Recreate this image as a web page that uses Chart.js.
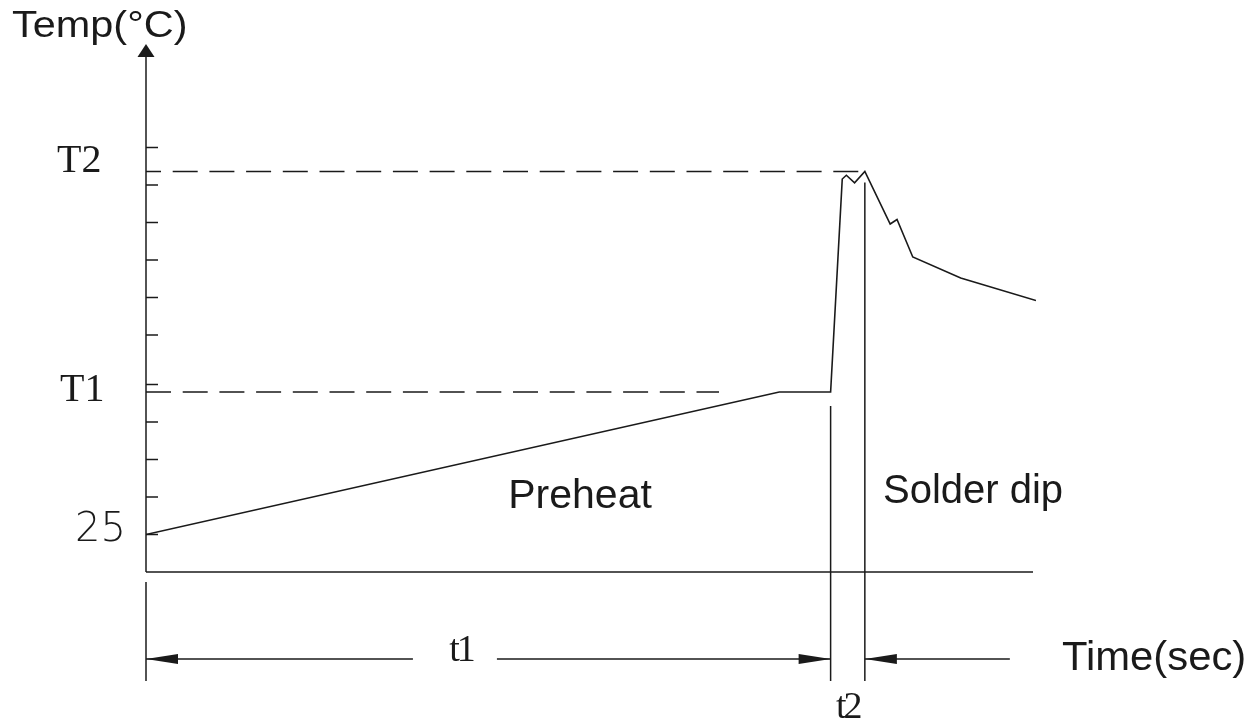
<!DOCTYPE html>
<html>
<head>
<meta charset="utf-8">
<script src="https://cdn.jsdelivr.net/npm/chart.js@4/dist/chart.umd.min.js"></script>
<style>
  html, body { margin: 0; padding: 0; background: #fff; }
  canvas { display: block; }
</style>
</head>
<body>
<canvas id="profile" width="1259" height="724"></canvas>
<script>
// Soldering temperature profile: time (s) against temperature (°C)
const timeSec = [0, 92.5, 100, 101.7, 102.3, 103.5, 105, 108.7, 109.7, 112, 119, 130];
const tempC   = [25, 120, 120, 262, 264.5, 259.5, 267, 232, 235, 210, 196, 181];

// Reference temperature levels shown on the vertical axis
const levelValues = [25, 120, 267];
const levelLabels = ['25', 'T1', 'T2'];

// Unlabelled minor ticks on the vertical axis
const minorTicks = [25, 50, 75, 100, 125, 158, 183, 208, 233, 258, 283];

// Phase boundaries: start, end of preheat (t1), end of dip (t2)
const phaseTimes  = [0, 100, 105];
const phaseLabels = ['t1', 't2'];

// Phase names and axis titles
const regionLabels = ['Preheat', 'Solder dip'];
const axisTitles   = ['Temp(°C)', 'Time(sec)'];

const INK = '#1a1a1a';
const SANS = '"Liberation Sans", Arial, sans-serif';
const SERIF = '"Liberation Serif", "Times New Roman", serif';

function arrowHead(ctx, tipX, tipY, dir, len, half) {
  ctx.beginPath();
  if (dir === 'up') {
    ctx.moveTo(tipX, tipY);
    ctx.lineTo(tipX - half, tipY + len);
    ctx.lineTo(tipX + half, tipY + len);
  } else {
    const s = dir === 'left' ? 1 : -1;
    ctx.moveTo(tipX, tipY);
    ctx.lineTo(tipX + s * len, tipY - half);
    ctx.lineTo(tipX + s * len, tipY + half);
  }
  ctx.closePath();
  ctx.fill();
}

function seg(ctx, x1, y1, x2, y2) {
  ctx.beginPath();
  ctx.moveTo(x1, y1);
  ctx.lineTo(x2, y2);
  ctx.stroke();
}

// text drawn with a slight horizontal stretch, left-aligned at (x, y)
function wideText(ctx, text, x, y, sx) {
  ctx.save();
  ctx.translate(x, y);
  ctx.scale(sx, 1);
  ctx.textAlign = 'left';
  ctx.fillText(text, 0, 0);
  ctx.restore();
}

const profileDecor = {
  id: 'profileDecor',
  beforeDatasetsDraw(chart) {
    const { ctx, chartArea } = chart;
    const xs = chart.scales.x, ys = chart.scales.y;
    const x0 = xs.getPixelForValue(0), y0 = ys.getPixelForValue(0);
    ctx.save();
    ctx.strokeStyle = INK;
    ctx.fillStyle = INK;
    ctx.lineWidth = 1.5;

    // axes
    seg(ctx, x0, y0, x0, chartArea.top + 12);
    arrowHead(ctx, x0, chartArea.top, 'up', 13, 8.5);
    seg(ctx, x0, y0, chartArea.right - 3, y0);

    // minor ticks pointing into the plot
    minorTicks.forEach(v => {
      const py = ys.getPixelForValue(v);
      seg(ctx, x0, py, x0 + 12, py);
    });

    // dashed guides for T1 and T2
    ctx.setLineDash([25, 11.7]);
    ctx.lineDashOffset = 0;
    seg(ctx, x0, ys.getPixelForValue(levelValues[1]), xs.getPixelForValue(83.7), ys.getPixelForValue(levelValues[1]));
    ctx.lineDashOffset = 10;
    seg(ctx, x0, ys.getPixelForValue(levelValues[2]), xs.getPixelForValue(phaseTimes[2]), ys.getPixelForValue(levelValues[2]));
    ctx.setLineDash([]);
    ctx.restore();
  },
  afterDraw(chart) {
    const { ctx, chartArea } = chart;
    const xs = chart.scales.x, ys = chart.scales.y;
    const x0 = xs.getPixelForValue(phaseTimes[0]);
    const xt1 = xs.getPixelForValue(phaseTimes[1]);
    const xt2 = xs.getPixelForValue(phaseTimes[2]);
    const y0 = ys.getPixelForValue(0);
    ctx.save();
    ctx.strokeStyle = INK;
    ctx.fillStyle = INK;
    ctx.lineWidth = 1.5;

    // level labels on the vertical axis
    ctx.textBaseline = 'middle';
    ctx.font = '200 40px "DejaVu Sans", ' + SANS;
    ctx.textAlign = 'right';
    ctx.fillText(levelLabels[0], x0 - 20, ys.getPixelForValue(levelValues[0]) - 4);
    ctx.font = '40px ' + SERIF;
    ctx.textAlign = 'left';
    ctx.fillText(levelLabels[1], x0 - 86, ys.getPixelForValue(levelValues[1]) - 2);
    ctx.fillText(levelLabels[2], x0 - 89, ys.getPixelForValue(levelValues[2]) - 10);

    // dimension lines below the time axis
    const yDim = y0 + 87;
    const yExt = y0 + 109;
    seg(ctx, x0, y0 + 10, x0, yExt);
    seg(ctx, xt1, ys.getPixelForValue(levelValues[1]) + 14, xt1, yExt);
    seg(ctx, xt2, ys.getPixelForValue(levelValues[2]) + 11, xt2, yExt);

    const t1Center = xs.getPixelForValue(46);
    seg(ctx, x0, yDim, t1Center - 48, yDim);
    seg(ctx, t1Center + 36, yDim, xt1, yDim);
    arrowHead(ctx, x0, yDim, 'left', 32, 5);
    arrowHead(ctx, xt1, yDim, 'right', 32, 5);

    seg(ctx, xt2, yDim, xt2 + 145, yDim);
    arrowHead(ctx, xt2, yDim, 'left', 32, 5);

    ctx.font = '38px ' + SERIF;
    ctx.letterSpacing = '-3px';
    ctx.textAlign = 'center';
    ctx.textBaseline = 'alphabetic';
    ctx.fillText(phaseLabels[0], t1Center, yDim + 2);
    ctx.fillText(phaseLabels[1], (xt1 + xt2) / 2, y0 + 146);
    ctx.letterSpacing = '0px';

    // phase names
    ctx.font = '41px ' + SANS;
    ctx.fillText(regionLabels[0], xs.getPixelForValue(63.4), ys.getPixelForValue(42.5));
    ctx.font = '40px ' + SANS;
    ctx.fillText(regionLabels[1], xs.getPixelForValue(120.8), ys.getPixelForValue(45.8));

    // axis titles
    ctx.font = '37px ' + SANS;
    wideText(ctx, axisTitles[0], x0 - 134, chartArea.top - 7, 1.12);
    ctx.font = '40px ' + SANS;
    wideText(ctx, axisTitles[1], chartArea.right + 26, yDim + 11, 1.045);
    ctx.restore();
  }
};

new Chart(document.getElementById('profile'), {
  type: 'line',
  data: {
    datasets: [{
      data: timeSec.map((t, i) => ({ x: t, y: tempC[i] })),
      borderColor: INK,
      borderWidth: 1.6,
      pointRadius: 0,
      tension: 0,
      fill: false
    }]
  },
  options: {
    responsive: false,
    devicePixelRatio: 1,
    animation: false,
    events: [],
    layout: { padding: { left: 146, top: 44, right: 223, bottom: 152 } },
    plugins: { legend: { display: false }, tooltip: { enabled: false } },
    scales: {
      x: { type: 'linear', min: 0, max: 130, display: false },
      y: { type: 'linear', min: 0, max: 352, display: false }
    }
  },
  plugins: [profileDecor]
});
</script>
</body>
</html>
